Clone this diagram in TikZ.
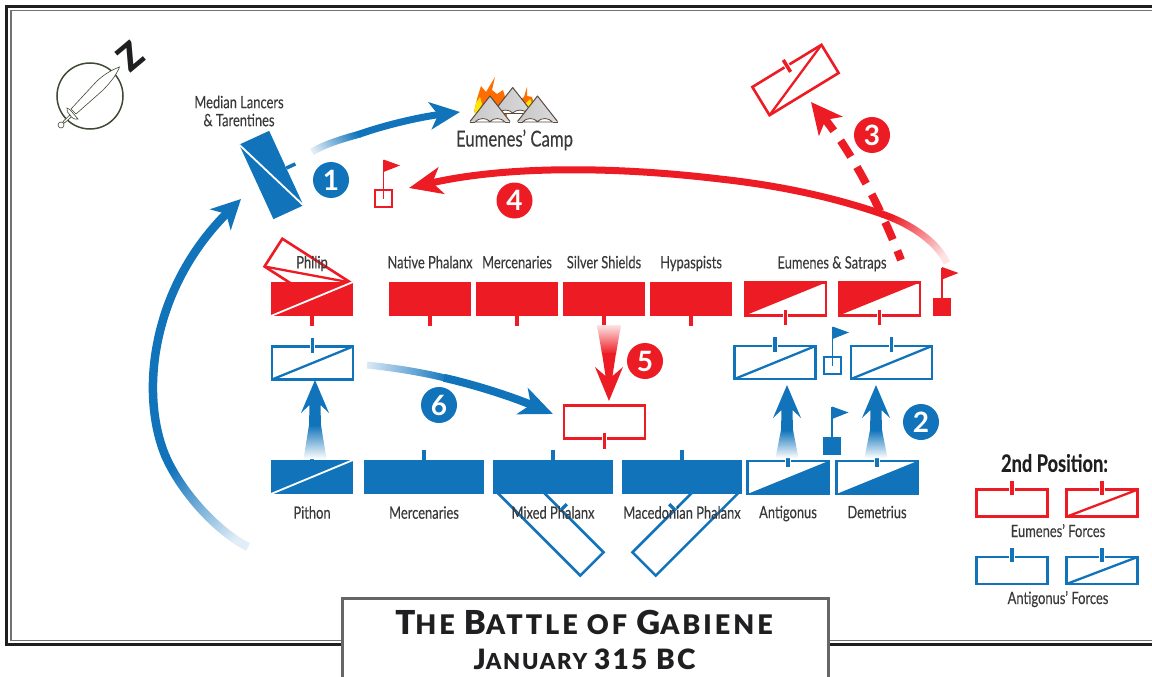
\documentclass[tikz,border=0pt]{standalone}
\usepackage{fontspec}
\setmainfont[FakeStretch=0.76,FakeBold=0.25]{Lato}
\newfontfamily\numfont{Lato}
\newfontfamily\heavyfont{Lato Black}
\newfontfamily\titlefont[LetterSpace=11]{Lato Black}
\newfontfamily\datefont[LetterSpace=8]{Lato Black}
\usetikzlibrary{arrows.meta,calc,fadings,positioning}
\definecolor{gabred}{HTML}{ED1C24}
\definecolor{gabblue}{HTML}{1174BB}
\definecolor{gabtext}{HTML}{3A3A3C}
\definecolor{gabdark}{HTML}{1F1F21}
\definecolor{gabolive}{HTML}{3F4A33}
\definecolor{tentline}{HTML}{5A4A42}
\tikzfading[name=fadestart, left color=transparent!88, right color=transparent!0]
\tikzset{
  solidunit/.style={rectangle, fill=#1, inner sep=0pt, outer sep=0pt, minimum width=82pt, minimum height=34pt},
  wideunit/.style={solidunit=#1, minimum width=120pt},
  boxunit/.style={rectangle, draw=#1, line width=2.6pt, inner sep=0pt, outer sep=0pt, minimum width=81pt, minimum height=33pt},
  keybox/.style={boxunit=#1, minimum width=71pt, minimum height=27pt},
  flagbox/.style={rectangle, draw=#1, line width=2.6pt, inner sep=0pt, outer sep=0pt, minimum size=17pt},
  flagsolid/.style={rectangle, fill=#1, inner sep=0pt, outer sep=0pt, minimum size=18pt},
  numdot/.style={circle, fill=#1, text=white, inner sep=0pt, minimum size=36pt, font=\numfont\bfseries\fontsize{28}{28}\selectfont},
  lab/.style={text=gabtext, inner sep=0pt, text height=11pt, text depth=3pt, font=\fontsize{17}{19}\selectfont},
  whitediag/.style={draw=white, line width=1.8pt},
  diagline/.style={draw=#1, line width=2.3pt},
  bluemove/.style={draw=gabblue, line width=#1, line cap=butt},
  redmove/.style={draw=gabred, line width=#1, line cap=butt},
  bighead/.style={-{Stealth[length=29pt, width=29pt, inset=8pt]}},
  tent/.pic={
    \shade[left color=black!22, middle color=white, right color=black!14] (0,0) -- (20,25.5) -- (-20,25.5) -- cycle;
    \draw[tentline, line width=1pt, line join=round] (-20,25.5) -- (0,0) -- (20,25.5);
    \draw[tentline, line width=.8pt, fill=white] (-15,26) .. controls (-11,21.5) and (-4,21.5) .. (0,25.5) .. controls (4,21.5) and (11,21.5) .. (15,26) -- cycle;
    \draw[tentline, line width=.8pt] (-20,26) -- (-15,26) (15,26) -- (20,26);
  }
}
% small marks on the units
\newcommand{\unittick}[5]{%
  \draw[white, line width=5.5pt] ($(#2.#3)!-#4pt+1pt!(#2.center)$) -- ($(#2.#3)!#5pt!(#2.center)$);
  \draw[#1, line width=3.5pt] ($(#2.#3)!-#4pt!(#2.center)$) -- ($(#2.#3)!#5pt!(#2.center)$);}
\newcommand{\flagpost}[2]{%
  \draw[#1, line width=1.2pt] (#2.center) -- ($(#2.north)+(0,-30)$);
  \fill[#1] ($(#2.north)+(0,-30.5)$) -- ++(16.5,6) -- ++(-16.5,6.5) -- cycle;}
\begin{document}
\begin{tikzpicture}[x=1pt,y=-1pt]
  \useasboundingbox (0,0) rectangle (1152,677);
  % frame
  \draw[gabdark, line width=2.8pt] (1152,6.5) -- (6.5,6.5) -- (6.5,644.5) -- (1152,644.5);
  \draw[black!55, line width=1.8pt] (1152,10.5) -- (11,10.5) -- (11,640.5) -- (1152,640.5);

  % compass
  \node[circle, draw=gabolive, line width=1.5pt, inner sep=0pt, minimum size=66pt] (dial) at (90,96) {};
  \draw[gabolive, line width=.6pt, fill=white] (119.5,67) .. controls (111,70) and (102,76) .. (96,82) -- (71,109) -- (76,114) -- (102,91) .. controls (109,84) and (116,76) .. (119.5,67) -- cycle;
  \draw[gabolive, line width=.6pt, fill=white] (72,113) -- (63,121.5) -- (64.5,123) -- (73.5,115) -- cycle;
  \draw[gabolive, line width=.6pt, fill=white] (67,108) .. controls (70,108) and (70,111) .. (72,112) .. controls (74,115) and (76,116) .. (78,119) .. controls (74,120) and (71,117) .. (70,115) .. controls (68,113) and (66,111) .. (67,108) -- cycle;
  \node[circle, draw=gabolive, fill=white, line width=.6pt, inner sep=0pt, minimum size=6pt] (pommel) at (61,125) {};
  \node[text=gabdark, inner sep=0pt, rotate=40, font=\heavyfont\fontsize{36}{36}\selectfont] (north) at (130.5,56.5) {Z};

  % camp
  \fill[orange!85!red] (474,112) -- (477,99) -- (481,86) -- (486,92) -- (495,77) -- (492,90) -- (497,94) -- (503,90) -- (506,100) -- (507,116) -- cycle;
  \fill[yellow!90!orange] (474,113) -- (476,103) -- (480,97) -- (482,104) -- (478,112) -- cycle;
  \fill[orange!85!red] (519,100) -- (524,97) -- (527,87) -- (527,96) -- (532,97) -- (535,108) -- (528,114) -- cycle;
  \fill[yellow!90!orange] (526,103) -- (530,99) -- (533,106) -- (529,110) -- cycle;
  \pic at (512.7,87.5) {tent};
  \pic at (490,96) {tent};
  \pic at (537.5,96) {tent};
  \node[text=gabtext, inner sep=0pt, font=\fontsize{22}{24}\selectfont] (camp) at (514.5,140) {Eumenes’ Camp};

  % units that have moved away
  \node[boxunit=gabblue, minimum width=120pt, rotate=-45] (mixedmove) at (549.5,521.5) {};
  \node[boxunit=gabblue, minimum width=120pt, rotate=45] (macedmove) at (686.5,521.5) {};
  \unittick{gabblue}{mixedmove}{north}{8}{0}
  \unittick{gabblue}{macedmove}{north}{8}{0}
  \node[boxunit=gabred, rotate=-32.7] (philmove) at (307.5,274.5) {};
  \draw[diagline=gabred] (philmove.south west) -- (philmove.north east);

  % Eumenes' line
  \node[solidunit=gabred] (phil) at (312,299) {};
  \node[solidunit=gabred] (native) at (430,299) {};
  \node[solidunit=gabred, right=5pt of native] (mercr) {};
  \node[solidunit=gabred, right=5pt of mercr] (silver) {};
  \node[solidunit=gabred, right=5pt of silver] (hyp) {};
  \node[boxunit=gabred] (eum) at (785.5,299) {};
  \node[boxunit=gabred, right=13pt of eum] (sat) {};
  \fill[gabred] (eum.south west) -- (eum.north west) -- (eum.north east) -- cycle;
  \fill[gabred] (sat.south west) -- (sat.north west) -- (sat.north east) -- cycle;
  \foreach \n in {phil,native,mercr,silver,hyp}
    \fill[gabred] ($(\n.south)+(-1.8,0)$) rectangle ($(\n.south)+(1.8,10)$);
  \unittick{gabred}{eum}{south}{9}{6}
  \unittick{gabred}{sat}{south}{9}{6}

  % Antigonus' line
  \node[solidunit=gabblue] (pith) at (312,477) {};
  \node[wideunit=gabblue] (mercb) at (424,477) {};
  \node[wideunit=gabblue, right=9pt of mercb] (mixed) {};
  \node[wideunit=gabblue, right=9pt of mixed] (maced) {};
  \node[boxunit=gabblue] (anti) at (788,477.5) {};
  \node[boxunit=gabblue, right=8pt of anti] (deme) {};
  \fill[gabblue] (anti.south west) -- (anti.south east) -- (anti.north east) -- cycle;
  \fill[gabblue] (deme.south west) -- (deme.south east) -- (deme.north east) -- cycle;

  % forward positions
  \node[boxunit=gabblue] (pithf) at (312.5,363) {};
  \node[boxunit=gabblue] (antif) at (775,362.5) {};
  \node[boxunit=gabblue] (demef) at (891.5,362.5) {};
  \node[boxunit=gabred] (centre) at (604.5,422) {};
  \node[boxunit=gabred, rotate=31.4] (eumfar) at (795.5,80) {};
  \foreach \n in {pithf,antif,demef}
    \draw[diagline=gabblue] (\n.south west) -- (\n.north east);
  \draw[diagline=gabred] (eumfar.south west) -- (eumfar.north east);
  \unittick{gabblue}{pithf}{north}{9}{6}
  \unittick{gabblue}{antif}{north}{9}{6}
  \unittick{gabblue}{demef}{north}{9}{6}
  \unittick{gabred}{centre}{south}{10}{6}
  \unittick{gabred}{eumfar}{north}{7}{7}

  % lancers
  \node[solidunit=gabblue, rotate=-65.3, minimum height=33pt] (lancers) at (271.3,175) {};
  \unittick{gabblue}{lancers}{north}{10}{0}
  \foreach \n in {phil,pith,lancers}
    \draw[whitediag] (\n.south west) -- (\n.north east);
  \foreach \n in {pith,mercb,mixed,maced}
    \fill[gabblue] ($(\n.north)+(-1.8,0)$) rectangle ($(\n.north)+(1.8,-10)$);
  \unittick{gabblue}{anti}{north}{9}{6}
  \unittick{gabblue}{deme}{north}{9}{6}

  % flags
  \node[flagsolid=gabred] (flagE) at (942,306.5) {};
  \node[flagbox=gabred] (flagW) at (383.5,198.5) {};
  \node[flagbox=gabblue] (flagF) at (832.5,365.5) {};
  \node[flagsolid=gabblue] (flagA) at (832,446) {};
  \flagpost{gabred}{flagE}
  \flagpost{gabred}{flagW}
  \flagpost{gabblue}{flagF}
  \flagpost{gabblue}{flagA}

  % labels
  \node[lab, above=10.5pt of phil] (philL) {Philip};
  \node[lab, above=10.5pt of native] (nativeL) {Native Phalanx};
  \node[lab, above=10.5pt of mercr] (mercrL) {Mercenaries};
  \node[lab, above=10.5pt of silver] (silverL) {Silver Shields};
  \node[lab, above=10.5pt of hyp] (hypL) {Hypaspists};
  \node[lab] (eumL) at (832,264.5) {Eumenes \& Satraps};
  \node[lab, below=13.5pt of pith] (pithL) {Pithon};
  \node[lab, below=13.5pt of mercb] (mercbL) {Mercenaries};
  \node[lab, below=13.5pt of mixed] (mixedL) {Mixed Phalanx};
  \node[lab, below=13.5pt of maced] (macedL) {Macedonian Phalanx};
  \node[lab, below=13pt of anti] (antiL) {Antigonus};
  \node[lab, below=13pt of deme] (demeL) {Demetrius};
  \node[text=gabtext, inner sep=0pt, align=center, font=\fontsize{17}{18}\selectfont] (lancersL) at (239,111) {Median Lancers\\\& Tarentines};

  % moves
  \coordinate (m1a) at (248,547);
  \coordinate (m1b) at (165,455);
  \coordinate (m1c) at (241,199);
  \draw[bluemove=8.5pt, path fading=fadestart, fading angle=135] (m1a) .. controls (215,530) and (180,490) .. (m1b);
  \draw[bluemove=8.5pt, bighead] (165.4,456) .. controls (140,395) and (150,290) .. (m1c);

  \coordinate (m2a) at (312,152);
  \coordinate (m2b) at (360,134);
  \coordinate (m2c) at (460,112);
  \draw[bluemove=7pt, path fading=fadestart, fading angle=20] (m2a) .. controls (325,144) and (342,139) .. (m2b);
  \draw[bluemove=7pt, -{Stealth[length=30pt, width=27pt, inset=8pt]}] (359,134.3) .. controls (385,125) and (420,117) .. (m2c);

  \coordinate (m3a) at (901,260);
  \coordinate (m3b) at (811,102);
  \draw[redmove=8pt, dash pattern=on 19pt off 12pt, dash phase=9pt, -{Stealth[length=31pt, width=30pt, inset=8pt]}] (m3a) .. controls (880,205) and (850,150) .. (m3b);

  \coordinate (m4a) at (947,263);
  \coordinate (m4b) at (882,214);
  \coordinate (m4c) at (720,179);
  \coordinate (m4d) at (409,188);
  \draw[redmove=7pt, path fading=fadestart, fading angle=140] (m4a) .. controls (935,238) and (905,222) .. (m4b);
  \draw[redmove=7pt, -{Stealth[length=33pt, width=27pt, inset=9pt]}] (883,214.3) .. controls (830,196) and (775,185) .. (m4c) .. controls (620,167) and (510,165) .. (m4d);

  \coordinate (m6a) at (367,365);
  \coordinate (m6b) at (445,378);
  \coordinate (m6c) at (553,414);
  \draw[bluemove=7pt, path fading=fadestart, fading angle=0] (m6a) .. controls (395,368) and (420,372) .. (m6b);
  \draw[bluemove=8pt, -{Stealth[length=33pt, width=28pt, inset=9pt]}] (444,377.8) .. controls (480,386) and (515,398) .. (m6c);

  % straight advances
  \foreach \x/\t/\b in {315/380/459,787/385/458,876/385/458} {
    \shade[top color=gabblue, bottom color=white] (\x-6,\t+45) -- (\x+6,\t+45) -- (\x+11.5,\b) -- (\x-11.5,\b) -- cycle;
    \fill[gabblue] (\x,\t) -- (\x+14,\t+33) -- (\x+5.5,\t+25) -- (\x+6,\t+46) -- (\x-6,\t+46) -- (\x-5.5,\t+25) -- (\x-14,\t+33) -- cycle;
  }
  \shade[top color=gabred!12, bottom color=gabred] (597,325) -- (621,325) -- (616,354) -- (602,354) -- cycle;
  \fill[gabred] (602,353) -- (616,353) -- (612.5,376) -- (623,367) -- (609,401) -- (595,367) -- (605.5,376) -- cycle;

  % numbers
  \node[numdot=gabblue] (n1) at (331,180) {1};
  \node[numdot=gabblue] (n2) at (921,422) {2};
  \node[numdot=gabred] (n3) at (872,135) {3};
  \node[numdot=gabred] (n4) at (514.5,200.5) {4};
  \node[numdot=gabred] (n5) at (645,361) {5};
  \node[numdot=gabblue] (n6) at (439,405) {6};

  % key
  \node[text=gabdark, inner sep=0pt, font=\bfseries\fontsize{24}{26}\selectfont] (keyT) at (1054.5,463) {2nd Position:};
  \node[keybox=gabred] (key1) at (1012,503.2) {};
  \node[keybox=gabred] (key2) at (1102,503.2) {};
  \node[lab] (key12) at (1058,533) {Eumenes’ Forces};
  \node[keybox=gabblue] (key3) at (1012,570.5) {};
  \node[keybox=gabblue] (key4) at (1102,570.5) {};
  \node[lab] (key34) at (1058,600) {Antigonus’ Forces};
  \draw[diagline=gabred] (key2.south west) -- (key2.north east);
  \draw[diagline=gabblue] (key4.south west) -- (key4.north east);
  \unittick{gabred}{key1}{north}{9}{5}
  \unittick{gabred}{key2}{north}{9}{5}
  \unittick{gabblue}{key3}{north}{9}{5}
  \unittick{gabblue}{key4}{north}{9}{5}

  % title
  \fill[white] (341,598) rectangle (829,677);
  \draw[black!60, line width=3pt] (342,677) -- (342,598.5) -- (828,598.5) -- (828,677);
  \node[text=gabdark, inner sep=0pt, font=\titlefont] (title) at (584,622) {\fontsize{33}{34}\selectfont T\fontsize{27}{34}\selectfont HE \fontsize{33}{34}\selectfont B\fontsize{27}{34}\selectfont ATTLE OF \fontsize{33}{34}\selectfont G\fontsize{27}{34}\selectfont ABIENE};
  \node[text=gabdark, inner sep=0pt, font=\datefont] (date) at (584.5,659) {\fontsize{28}{30}\selectfont J\fontsize{22}{30}\selectfont ANUARY \fontsize{28}{30}\selectfont 315 BC};
\end{tikzpicture}
\end{document}
